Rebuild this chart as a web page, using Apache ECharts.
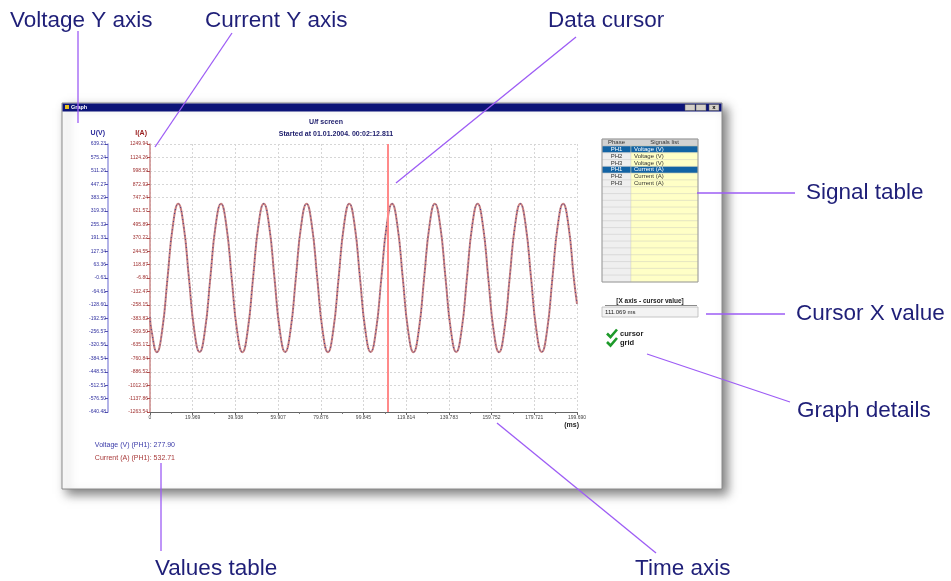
<!DOCTYPE html>
<html>
<head>
<meta charset="utf-8">
<script src="https://cdn.jsdelivr.net/npm/echarts@6/dist/echarts.min.js"></script>
<style>
  html, body { margin: 0; padding: 0; background: #fff; }
  #main { width: 951px; height: 581px; }
</style>
</head>
<body>
<div id="main"></div>
<script>
// time samples (ms)
var timeMs = [0,
  0.7, 3.2, 5.7, 8.2, 10.7, 13.2, 15.7, 18.2,
  20.7, 23.2, 25.7, 28.2, 30.7, 33.2, 35.7, 38.2,
  40.7, 43.2, 45.7, 48.2, 50.7, 53.2, 55.7, 58.2,
  60.7, 63.2, 65.7, 68.2, 70.7, 73.2, 75.7, 78.2,
  80.7, 83.2, 85.7, 88.2, 90.7, 93.2, 95.7, 98.2,
  100.7, 103.2, 105.7, 108.2, 110.7, 113.2, 115.7, 118.2,
  120.7, 123.2, 125.7, 128.2, 130.7, 133.2, 135.7, 138.2,
  140.7, 143.2, 145.7, 148.2, 150.7, 153.2, 155.7, 158.2,
  160.7, 163.2, 165.7, 168.2, 170.7, 173.2, 175.7, 178.2,
  180.7, 183.2, 185.7, 188.2, 190.7, 193.2, 195.7, 198.2,
  199.69];
// PH1 voltage (V)
var voltagePH1 = [-188,
  -251, -355, -250, 0, 250, 354, 251, 1,
  -250, -354, -251, -1, 251, 355, 250, 0,
  -251, -355, -250, 0, 250, 354, 250, 1,
  -250, -354, -251, 0, 251, 354, 250, 0,
  -251, -355, -250, -1, 250, 355, 251, 0,
  -250, -354, -251, 0, 251, 354, 250, 1,
  -251, -355, -250, 0, 250, 354, 251, 0,
  -250, -354, -251, -1, 251, 355, 250, 0,
  -251, -355, -250, 0, 250, 354, 250, 1,
  -250, -354, -251, 0, 251, 354, 250, 0,
  -125];
// PH1 current (A)
var currentPH1 = [-376,
  -498, -702, -497, -7, 485, 689, 486, -6,
  -497, -701, -498, -8, 486, 690, 485, -7,
  -498, -702, -497, -7, 485, 689, 485, -6,
  -497, -701, -498, -7, 486, 689, 485, -7,
  -498, -702, -497, -8, 485, 690, 486, -7,
  -497, -701, -498, -7, 486, 689, 485, -6,
  -498, -702, -497, -7, 485, 689, 486, -7,
  -497, -701, -498, -8, 486, 690, 485, -7,
  -498, -702, -497, -7, 485, 689, 485, -6,
  -497, -701, -498, -7, 486, 689, 485, -7,
  -250];

var xTickLabels = ['0', '19.969', '39.938', '59.907', '79.876', '99.845', '119.814', '139.783', '159.752', '179.721', '199.690'];
var voltTickLabels = ['-640.48', '-576.50', '-512.51', '-448.53', '-384.54', '-320.56', '-256.57', '-192.59', '-128.60', '-64.61', '-0.63',
  '63.36', '127.34', '191.33', '255.32', '319.30', '383.29', '447.27', '511.26', '575.24', '639.23'];
var currTickLabels = ['-1263.54', '-1137.86', '-1012.19', '-886.52', '-760.84', '-635.17', '-509.50', '-383.82', '-258.15', '-132.47', '-6.80',
  '118.87', '244.55', '370.22', '495.89', '621.57', '747.24', '872.92', '998.59', '1124.26', '1249.94'];

var cursorX = 111.069;
var cursorVoltage = '277.90';
var cursorCurrent = '532.71';

var signalPhase = ['PH1', 'PH2', 'PH3', 'PH1', 'PH2', 'PH3'];
var signalName = ['Voltage (V)', 'Voltage (V)', 'Voltage (V)', 'Current (A)', 'Current (A)', 'Current (A)'];
var signalSelected = [true, false, false, true, false, false];

var FONT = 'Liberation Sans';
var NOTE_COLOR = '#1f1f78';
var NOTE_LINE = '#9d5cf5';

var xMin = 0, xStep = 19.969, xMax = 199.69;
var vMin = -640.48, vMax = 639.23, vStep = (vMax - vMin) / 20;
var cMin = -1263.54, cMax = 1249.94, cStep = (cMax - cMin) / 20;

function pickLabel(list, min, step) {
  return function (v) {
    var i = Math.round((v - min) / step);
    return list[i] !== undefined ? list[i] : '';
  };
}

function pairs(xs, ys) {
  return xs.map(function (x, i) { return [x, ys[i]]; });
}

// 注释文字 + 连线
function note(text, tx, ty, p1, p2) {
  return [
    { type: 'line', z: 60, shape: { x1: p1[0], y1: p1[1], x2: p2[0], y2: p2[1] },
      style: { stroke: NOTE_LINE, lineWidth: 1.3 } },
    { type: 'text', z: 60, x: tx, y: ty,
      style: { text: text, fill: NOTE_COLOR, font: '22.5px "' + FONT + '"', verticalAlign: 'middle' } }
  ];
}

// 信号表
function signalTable() {
  var x0 = 602, x1 = 631, x2 = 698, y0 = 139, hh = 7, rh = 6.8, rows = 20;
  var f = '6px "' + FONT + '"';
  var els = [];
  els.push({ type: 'rect', shape: { x: x0, y: y0, width: x2 - x0, height: hh },
    style: { fill: '#d2d2d2', stroke: '#a8a8a8', lineWidth: 0.5 } });
  els.push({ type: 'text', x: (x0 + x1) / 2, y: y0 + hh / 2,
    style: { text: 'Phase', fill: '#333', font: f, align: 'center', verticalAlign: 'middle' } });
  els.push({ type: 'text', x: (x1 + x2) / 2, y: y0 + hh / 2,
    style: { text: 'Signals list', fill: '#333', font: f, align: 'center', verticalAlign: 'middle' } });
  for (var r = 0; r < rows; r++) {
    var y = y0 + hh + r * rh;
    var sel = signalSelected[r];
    els.push({ type: 'rect', shape: { x: x0, y: y, width: x1 - x0, height: rh },
      style: { fill: sel ? '#1263a4' : '#efefef', stroke: '#cfcfcf', lineWidth: 0.5 } });
    els.push({ type: 'rect', shape: { x: x1, y: y, width: x2 - x1, height: rh },
      style: { fill: sel ? '#1263a4' : '#ffffc6', stroke: '#d8d8b8', lineWidth: 0.5 } });
    if (signalPhase[r]) {
      els.push({ type: 'text', x: (x0 + x1) / 2, y: y + rh / 2,
        style: { text: signalPhase[r], fill: sel ? '#fff' : '#333', font: f, align: 'center', verticalAlign: 'middle' } });
      els.push({ type: 'text', x: x1 + 3, y: y + rh / 2,
        style: { text: signalName[r], fill: sel ? '#fff' : '#333', font: f, verticalAlign: 'middle' } });
    }
  }
  els.push({ type: 'rect', shape: { x: x0, y: y0, width: x2 - x0, height: hh + rows * rh },
    style: { fill: 'none', stroke: '#9a9a9a', lineWidth: 1 } });
  return els;
}

function check(x, y, label) {
  return [
    { type: 'polyline', shape: { points: [[x, y - 0.5], [x + 3.5, y + 3], [x + 10, y - 4.5]] },
      style: { stroke: '#1d9a2a', lineWidth: 2.6, fill: 'none' } },
    { type: 'text', x: x + 13, y: y,
      style: { text: label, fill: '#222', font: 'bold 7.5px "' + FONT + '"', verticalAlign: 'middle' } }
  ];
}

var graphics = [
  // 窗口
  { type: 'rect', z: -10, shape: { x: 62, y: 103, width: 660, height: 386 },
    style: { fill: '#fff', stroke: '#8a8a8a', lineWidth: 1, shadowBlur: 10, shadowOffsetX: 5, shadowOffsetY: 5, shadowColor: 'rgba(0,0,0,0.5)' } },
  { type: 'rect', z: -9, shape: { x: 62.5, y: 103.5, width: 659, height: 8 },
    style: { fill: '#0c1478' } },
  { type: 'rect', z: -8, shape: { x: 65, y: 105, width: 4, height: 4 }, style: { fill: '#e8c020' } },
  { type: 'text', z: -8, x: 71, y: 107.6,
    style: { text: 'Graph', fill: '#fff', font: 'bold 5.5px "' + FONT + '"', verticalAlign: 'middle' } },
  { type: 'rect', z: -8, shape: { x: 685, y: 104.5, width: 10, height: 6 }, style: { fill: '#d4d0c8', stroke: '#555', lineWidth: 0.5 } },
  { type: 'rect', z: -8, shape: { x: 696, y: 104.5, width: 10, height: 6 }, style: { fill: '#d4d0c8', stroke: '#555', lineWidth: 0.5 } },
  { type: 'rect', z: -8, shape: { x: 709, y: 104.5, width: 10, height: 6 }, style: { fill: '#d4d0c8', stroke: '#555', lineWidth: 0.5 } },
  { type: 'text', z: -7, x: 714, y: 107.6, style: { text: 'x', fill: '#000', font: 'bold 6px "' + FONT + '"', align: 'center', verticalAlign: 'middle' } },
  // 标题
  { type: 'text', x: 326, y: 122, style: { text: 'U/f screen', fill: '#1a1a6a', font: 'bold 7px "' + FONT + '"', align: 'center', verticalAlign: 'middle' } },
  { type: 'text', x: 336, y: 134, style: { text: 'Started at 01.01.2004. 00:02:12.811', fill: '#1a1a6a', font: 'bold 7px "' + FONT + '"', align: 'center', verticalAlign: 'middle' } },
  // 数值表
  { type: 'text', x: 175, y: 445, style: { text: 'Voltage (V) (PH1): ' + cursorVoltage, fill: '#3a3aa8', font: '7px "' + FONT + '"', align: 'right', verticalAlign: 'middle' } },
  { type: 'text', x: 175, y: 458, style: { text: 'Current (A) (PH1): ' + cursorCurrent, fill: '#a83a3a', font: '7px "' + FONT + '"', align: 'right', verticalAlign: 'middle' } },
  // 光标值
  { type: 'text', x: 650, y: 301, style: { text: '[X axis - cursor value]', fill: '#222', font: 'bold 6.5px "' + FONT + '"', align: 'center', verticalAlign: 'middle' } },
  { type: 'line', shape: { x1: 605, y1: 305.5, x2: 697, y2: 305.5 }, style: { stroke: '#8a8a8a', lineWidth: 1 } },
  { type: 'rect', shape: { x: 602, y: 307, width: 96, height: 10 }, style: { fill: '#f3f3f3', stroke: '#b8b8b8', lineWidth: 0.8 } },
  { type: 'text', x: 605, y: 312, style: { text: cursorX.toFixed(3) + ' ms', fill: '#222', font: '6px "' + FONT + '"', verticalAlign: 'middle' } }
];
graphics = graphics.concat(signalTable());
graphics = graphics.concat(check(607, 334, 'cursor'), check(607, 342.5, 'grid'));
graphics = graphics.concat(
  note('Voltage Y axis', 10, 21, [78, 31], [78, 123]),
  note('Current Y axis', 205, 21, [232, 33], [155, 147]),
  note('Data cursor', 548, 21, [576, 37], [396, 183]),
  note('Signal table', 806, 193, [697, 193], [795, 193]),
  note('Cursor X value', 796, 314, [706, 314], [785, 314]),
  note('Graph details', 797, 411, [647, 354], [790, 402]),
  note('Values table', 155, 569, [161, 463], [161, 551]),
  note('Time axis', 635, 569, [497, 423], [656, 553])
);

var chart = echarts.init(document.getElementById('main'));
chart.setOption({
  backgroundColor: '#fff',
  animation: false,
  textStyle: { fontFamily: FONT },
  grid: { left: 150, top: 144, right: 374, bottom: 169 },
  xAxis: {
    type: 'value', min: xMin, max: xMax, interval: xStep,
    name: '(ms)', nameLocation: 'end', nameGap: 2,
    nameTextStyle: { color: '#222', fontSize: 7, fontWeight: 'bold', align: 'right', verticalAlign: 'top', padding: [10, 0, 0, 0] },
    axisLine: { onZero: false, lineStyle: { color: '#666', width: 1 } },
    axisTick: { length: 3, lineStyle: { color: '#666' } },
    minorTick: { show: true, splitNumber: 2, length: 2, lineStyle: { color: '#777' } },
    axisLabel: { fontSize: 5, color: '#444', margin: 3, formatter: pickLabel(xTickLabels, xMin, xStep) },
    splitLine: { show: true, lineStyle: { color: '#d6d6d6', type: [2, 2], width: 1 } }
  },
  yAxis: [
    {
      type: 'value', position: 'left', offset: 0,
      min: cMin, max: cMax, interval: cStep,
      name: 'I(A)', nameLocation: 'end', nameGap: 7,
      nameTextStyle: { color: '#9a2020', fontSize: 7, fontWeight: 'bold', align: 'right', padding: [0, 3, 0, 0] },
      axisLine: { show: true, onZero: false, lineStyle: { color: '#cc8a8a', width: 1.5 } },
      axisTick: { show: true, length: 3, lineStyle: { color: '#b05050' } },
      axisLabel: { fontSize: 5, color: '#a03232', margin: 2, formatter: pickLabel(currTickLabels, cMin, cStep) },
      splitLine: { show: true, lineStyle: { color: '#d6d6d6', type: [2, 2], width: 1 } }
    },
    {
      type: 'value', position: 'left', offset: 42,
      min: vMin, max: vMax, interval: vStep,
      name: 'U(V)', nameLocation: 'end', nameGap: 7,
      nameTextStyle: { color: '#2a2a9a', fontSize: 7, fontWeight: 'bold', align: 'right', padding: [0, 3, 0, 0] },
      axisLine: { show: true, onZero: false, lineStyle: { color: '#9a9ae0', width: 1.5 } },
      axisTick: { show: true, length: 3, lineStyle: { color: '#5050b0' } },
      axisLabel: { fontSize: 5, color: '#3232a0', margin: 2, formatter: pickLabel(voltTickLabels, vMin, vStep) },
      splitLine: { show: false }
    }
  ],
  series: [
    {
      name: 'Current (A)', type: 'line', yAxisIndex: 0,
      data: pairs(timeMs, currentPH1), smooth: true, showSymbol: false,
      lineStyle: { color: '#c98080', width: 2 },
      markLine: {
        silent: true, symbol: 'none', label: { show: false },
        lineStyle: { color: '#ff8a8a', width: 2, type: 'solid' },
        data: [{ xAxis: cursorX }]
      }
    },
    {
      name: 'Voltage (V)', type: 'line', yAxisIndex: 1,
      data: pairs(timeMs, voltagePH1), smooth: true, showSymbol: false,
      lineStyle: { color: '#3c3c8c', width: 1, type: [1, 3] }
    }
  ],
  graphic: graphics
});
</script>
</body>
</html>
